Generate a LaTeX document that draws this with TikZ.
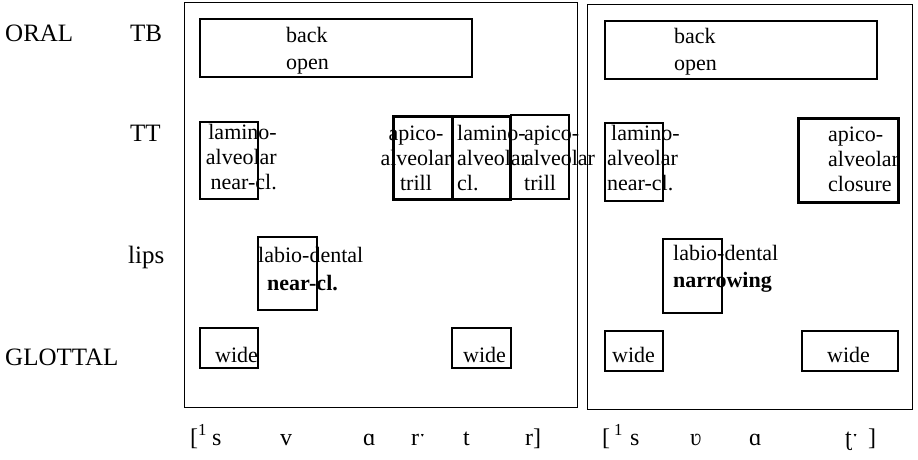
\documentclass[tikz,border=0pt]{standalone}
\usepackage{fontspec}
\setmainfont{Liberation Serif}
\usepackage{tikz}
\usetikzlibrary{positioning}

\newcommand{\glossfont}{\fontsize{22}{25}\selectfont}
\newcommand{\tierfont}{\fontsize{25}{28}\selectfont}
\newcommand{\ipafont}{\fontsize{24}{28}\selectfont}

\begin{document}
\begin{tikzpicture}[x=1pt,y=-1pt]
    \tikzstyle{frame}=[draw, line width=1.4pt, inner sep=0pt]
    \tikzstyle{gesture}=[draw, line width=1.2pt, inner sep=0pt, minimum width=58pt]
    \tikzstyle{strong}=[gesture, line width=3pt]
    \tikzstyle{gloss}=[inner sep=0pt, font=\glossfont, align=left, anchor=west]
    \tikzstyle{tier}=[inner sep=0pt, font=\tierfont, anchor=west]
    \tikzstyle{seg}=[inner sep=0pt, font=\ipafont, anchor=base west]

    \useasboundingbox (0,0) rectangle (918,460);

    % tiers
    \node[tier] (oral)    at (5,33)    {ORAL};
    \node[tier] (tb)      at (130,33)  {TB};
    \node[tier] (tt)      at (130,133) {TT};
    \node[tier] (lips)    at (128,257) {lips};
    \node[tier] (glottal) at (5,357)   {GLOTTAL};

    % first word
    \node[frame, minimum width=393, minimum height=405] (wordA) at (381,205) {};

    \node[gesture, minimum width=272, minimum height=58] (tbA)    at (336,48)      {};
    \node[gesture, minimum height=77]                   (ttA)    at (229,160.5)   {};
    \node[strong,  minimum width=59, minimum height=83] (trillA) at (422.5,157.5) {};
    \node[strong,  minimum height=83]                   (clA)    at (481,157.5)   {};
    \node[gesture, minimum height=84]                   (trillB) at (540,157)     {};
    \node[gesture, minimum width=59, minimum height=73] (lipsA)  at (287.5,273.5) {};
    \node[gesture, minimum height=40]                   (glA)    at (229,348)     {};
    \node[gesture, minimum width=59, minimum height=40] (glB)    at (481.5,348)   {};

    \node[gloss, font=\fontsize{22}{27}\selectfont] (tbAtext) at (286,50.5) {back\\open};
    \node[gloss, align=right, anchor=east] (ttAtext) at (277,157) {lamino-\\alveolar\\near-cl.};
    \node[gloss, align=center, anchor=center] (trillAtext) at (416,158) {apico-\\alveolar\\trill};
    \node[gloss] (clAtext)     at (457,158) {lamino-\\alveolar\\cl.};
    \node[gloss] (trillBtext)  at (524,158) {apico-\\alveolar\\trill};
    \node[gloss, font=\fontsize{22}{28}\selectfont] (lipsAtext) at (258,269) {labio-dental\\\hspace*{9pt}\textbf{near-cl.}};
    \node[gloss] (glAtext) at (215,355) {wide};
    \node[gloss] (glBtext) at (463,355) {wide};

    % second word
    \node[frame, minimum width=325, minimum height=405] (wordB) at (750,207) {};

    \node[gesture, minimum width=272, minimum height=58] (tbB)   at (741,50)    {};
    \node[gesture, minimum height=78]                    (ttB)   at (634,162)   {};
    \node[strong,  minimum width=100, minimum height=84] (clB)   at (848,160)   {};
    \node[gesture, minimum width=59, minimum height=74]  (lipsB) at (692.5,276) {};
    \node[gesture, minimum height=40]                    (glC)   at (634,351)   {};
    \node[gesture, minimum width=96, minimum height=40]  (glD)   at (850,351)   {};

    \node[gloss, font=\fontsize{22}{27}\selectfont] (tbBtext) at (674,52) {back\\open};
    \node[gloss] (ttBtext) at (607,158.5) {\hspace*{4pt}lamino-\\alveolar\\near-cl.};
    \node[gloss] (clBtext) at (828,159)   {apico-\\alveolar\\closure};
    \node[gloss, font=\fontsize{22}{27}\selectfont] (lipsBtext) at (673,268.5) {labio-dental\\\textbf{narrowing}};
    \node[gloss] (glCtext) at (612,355) {wide};
    \node[gloss] (glDtext) at (827,355) {wide};

    % transcriptions
    \foreach \x/\s in {190/{[\textsuperscript{1}}, 212/s, 280/v, 363/ɑ, 411/rˑ, 463/t, 525/{r]},
                       602/{[\,\textsuperscript{1}}, 630/s, 690/ʋ, 749/ɑ, 845/ʈˑ, 868/{]}}
        \node[seg] (seg\x) at (\x,445) {\s};
\end{tikzpicture}
\end{document}
